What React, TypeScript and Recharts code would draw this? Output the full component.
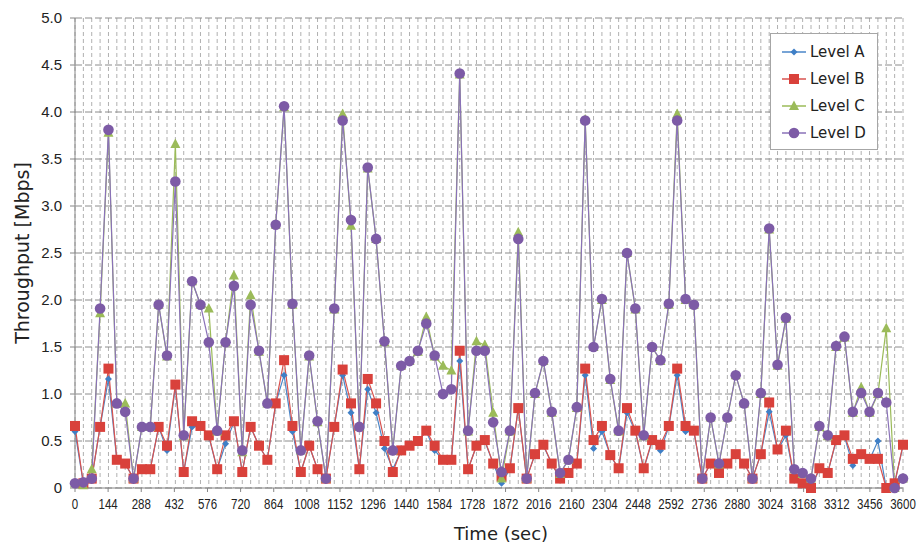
import React from "react";
import { LineChart, Line, XAxis, YAxis, CartesianGrid, Legend } from "recharts";

// throughput samples (Mbps), 100 samples across 0..3600 s
const LEVEL_A = [
  0.6, 0.05, 0.1, 0.65, 1.16, 0.3, 0.26, 0.1, 0.2, 0.2,
  0.65, 0.4, 1.08, 0.17, 0.65, 0.66, 0.55, 0.2, 0.47, 0.7,
  0.17, 0.65, 0.45, 0.3, 0.9, 1.2, 0.6, 0.17, 0.45, 0.2,
  0.1, 0.65, 1.2, 0.8, 0.2, 1.05, 0.8, 0.42, 0.2, 0.4,
  0.45, 0.5, 0.6, 0.4, 0.3, 0.3, 1.35, 0.2, 0.45, 0.5,
  0.26, 0.05, 0.2, 0.85, 0.1, 0.36, 0.45, 0.26, 0.1, 0.16,
  0.26, 1.2, 0.42, 0.6, 0.35, 0.2, 0.8, 0.6, 0.2, 0.5,
  0.4, 0.65, 1.2, 0.6, 0.6, 0.1, 0.26, 0.16, 0.26, 0.36,
  0.26, 0.1, 0.36, 0.81, 0.4, 0.56, 0.1, 0.05, 0.0, 0.2,
  0.16, 0.5, 0.55, 0.24, 0.36, 0.3, 0.5, 0.0, 0.05, 0.45,
];
const LEVEL_B = [
  0.66, 0.05, 0.1, 0.65, 1.27, 0.3, 0.26, 0.1, 0.2, 0.2,
  0.65, 0.45, 1.1, 0.17, 0.71, 0.66, 0.56, 0.2, 0.56, 0.71,
  0.17, 0.65, 0.45, 0.3, 0.9, 1.36, 0.66, 0.17, 0.45, 0.2,
  0.1, 0.65, 1.26, 0.9, 0.2, 1.16, 0.9, 0.5, 0.17, 0.4,
  0.45, 0.5, 0.61, 0.45, 0.3, 0.3, 1.46, 0.2, 0.45, 0.51,
  0.26, 0.12, 0.21, 0.85, 0.1, 0.36, 0.46, 0.26, 0.1, 0.16,
  0.26, 1.27, 0.51, 0.66, 0.35, 0.21, 0.85, 0.61, 0.21, 0.51,
  0.46, 0.66, 1.27, 0.66, 0.61, 0.1, 0.26, 0.16, 0.26, 0.36,
  0.26, 0.1, 0.36, 0.91, 0.41, 0.61, 0.1, 0.05, 0.0, 0.21,
  0.16, 0.51, 0.56, 0.31, 0.36, 0.31, 0.31, 0.0, 0.05, 0.46,
];
const LEVEL_C = [
  0.05, 0.03, 0.2, 1.86, 3.78, 0.9, 0.9, 0.1, 0.65, 0.65,
  1.95, 1.4, 3.66, 0.55, 2.2, 1.95, 1.91, 0.6, 1.55, 2.26,
  0.38, 2.05, 1.45, 0.9, 2.8, 4.05, 1.95, 0.4, 1.4, 0.7,
  0.1, 1.9, 3.98, 2.79, 0.65, 3.4, 2.65, 1.55, 0.4, 1.3,
  1.35, 1.45, 1.82, 1.4, 1.3, 1.25, 4.4, 0.6, 1.56, 1.52,
  0.8, 0.1, 0.6, 2.72, 0.1, 1.0, 1.35, 0.8, 0.15, 0.3,
  0.85, 3.92, 1.5, 2.0, 1.15, 0.6, 2.5, 1.9, 0.55, 1.5,
  1.35, 1.95, 3.98, 2.0, 1.95, 0.1, 0.75, 0.25, 0.75, 1.2,
  0.9, 0.1, 1.0, 2.75, 1.3, 1.8, 0.2, 0.15, 0.1, 0.65,
  0.55, 1.5, 1.6, 0.8, 1.07, 0.8, 1.0, 1.7, 0.0, 0.1,
];
const LEVEL_D = [
  0.05, 0.06, 0.1, 1.91, 3.81, 0.9, 0.81, 0.1, 0.65, 0.65,
  1.95, 1.41, 3.26, 0.56, 2.2, 1.95, 1.55, 0.61, 1.55, 2.15,
  0.4, 1.95, 1.46, 0.9, 2.8, 4.06, 1.96, 0.4, 1.41, 0.71,
  0.1, 1.91, 3.91, 2.85, 0.65, 3.41, 2.65, 1.56, 0.4, 1.3,
  1.35, 1.46, 1.75, 1.41, 1.0, 1.05, 4.41, 0.61, 1.46, 1.46,
  0.7, 0.17, 0.61, 2.65, 0.1, 1.01, 1.35, 0.81, 0.16, 0.3,
  0.86, 3.91, 1.5, 2.01, 1.16, 0.61, 2.5, 1.91, 0.56, 1.5,
  1.36, 1.96, 3.91, 2.01, 1.95, 0.1, 0.75, 0.26, 0.75, 1.2,
  0.9, 0.1, 1.01, 2.76, 1.31, 1.81, 0.2, 0.16, 0.1, 0.66,
  0.56, 1.51, 1.61, 0.81, 1.01, 0.81, 1.01, 0.91, 0.0, 0.1,
];

const X_TICKS = [
  0, 144, 288, 432, 576, 720, 864, 1008, 1152, 1296, 1440, 1584, 1728,
  1872, 2016, 2160, 2304, 2448, 2592, 2736, 2880, 3024, 3168, 3312, 3456, 3600,
];
const Y_TICKS = [0, 0.5, 1, 1.5, 2, 2.5, 3, 3.5, 4, 4.5, 5];

// samples are evenly spaced, first at 0 s and last at 3600 s
const STEP = 3600 / (LEVEL_D.length - 1);
const TIMES = LEVEL_D.map((_, i) => i * STEP);

const data = TIMES.map((t, i) => ({
  t,
  a: LEVEL_A[i],
  b: LEVEL_B[i],
  c: LEVEL_C[i],
  d: LEVEL_D[i],
}));

const COLORS = { a: "#3f7fc6", b: "#d9413b", c: "#9bbb59", d: "#7d5ba6" };
const LINE_COLORS = { a: "#4a86c8", b: "#d9534f", c: "#9bbb59", d: "#8a72b8" };

type Shape = "diamond" | "square" | "triangle" | "circle";

function marker(shape: Shape, color: string, cx: number, cy: number, key?: string) {
  if (shape === "diamond")
    return <path key={key} d={`M${cx},${cy - 3.5}L${cx + 3.5},${cy}L${cx},${cy + 3.5}L${cx - 3.5},${cy}Z`} fill={color} />;
  if (shape === "square")
    return <rect key={key} x={cx - 5} y={cy - 5} width={10} height={10} fill={color} />;
  if (shape === "triangle")
    return <path key={key} d={`M${cx},${cy - 5.5}L${cx + 5},${cy + 4}L${cx - 5},${cy + 4}Z`} fill={color} />;
  return <circle key={key} cx={cx} cy={cy} r={5.3} fill={color} />;
}

const dotFor = (shape: Shape, color: string) => (p: any) => {
  if (p.cx == null || p.cy == null) return <g key={`${shape}-${p.index}`} />;
  return marker(shape, color, p.cx, p.cy, `${shape}-${p.index}`);
};

const SERIES: Array<{ key: "a" | "b" | "c" | "d"; name: string; shape: Shape }> = [
  { key: "a", name: "Level A", shape: "diamond" },
  { key: "b", name: "Level B", shape: "square" },
  { key: "c", name: "Level C", shape: "triangle" },
  { key: "d", name: "Level D", shape: "circle" },
];

// narrow, squeezed tick labels like the original axis
function TimeTick(props: any) {
  const { x, y, payload } = props;
  const label = String(payload.value);
  const width = label.length * 6.4;
  // the last label sits against the right edge: anchor it by its end
  const isLast = payload.value === X_TICKS[X_TICKS.length - 1];
  return (
    <text
      x={isLast ? x + width / 2 : x}
      y={y}
      dy={12}
      textAnchor={isLast ? "end" : "middle"}
      fontSize={15}
      fill="#222"
      fontFamily="'Liberation Sans', sans-serif"
      textLength={width}
      lengthAdjust="spacingAndGlyphs"
    >
      {label}
    </text>
  );
}

function LegendBox() {
  return (
    <div
      style={{
        border: "1px solid #a6a6a6",
        background: "#fff",
        padding: "4px 8px 3px 11px",
        fontFamily: "'DejaVu Sans', sans-serif",
        fontSize: 15,
        color: "#222",
      }}
    >
      {SERIES.map((s) => (
        <div key={s.key} style={{ display: "flex", alignItems: "center", height: 27 }}>
          <svg width={24} height={14} style={{ marginRight: 4 }}>
            <line x1={0} y1={7} x2={24} y2={7} stroke={LINE_COLORS[s.key]} strokeWidth={1.5} />
            {marker(s.shape, COLORS[s.key], 12, 7)}
          </svg>
          <span>{s.name}</span>
        </div>
      ))}
    </div>
  );
}

export default function App() {
  return (
    <div style={{ position: "absolute", left: 0, top: 0, background: "#fff" }}>
      <LineChart width={920} height={547} data={data} margin={{ top: 18, right: 17, left: 0, bottom: 0 }}>
        <CartesianGrid
          xAxisId="grid"
          horizontal={false}
          stroke="#b0b0b0"
          strokeDasharray="4 3"
        />
        <CartesianGrid vertical={false} stroke="#8c8c8c" strokeDasharray="7 3" />
        <XAxis
          xAxisId="grid"
          dataKey="t"
          type="number"
          domain={[0, 3600]}
          ticks={TIMES}
          interval={0}
          hide
        />
        <XAxis
          dataKey="t"
          type="number"
          domain={[0, 3600]}
          ticks={X_TICKS}
          interval={0}
          height={59}
          axisLine={{ stroke: "#868686" }}
          tickLine={{ stroke: "#868686" }}
          tickSize={4}
          tickMargin={5}
          tick={<TimeTick />}
          label={{
            value: "Time (sec)",
            position: "insideBottom",
            offset: 7,
            dx: 12,
            style: { fontSize: 18, fill: "#222", fontFamily: "'DejaVu Sans', sans-serif" },
          }}
        />
        <YAxis
          type="number"
          domain={[0, 5]}
          ticks={Y_TICKS}
          width={75}
          axisLine={{ stroke: "#868686" }}
          tickLine={{ stroke: "#868686" }}
          tickSize={5}
          tickMargin={8}
          tickFormatter={(v: number) => (v === 0 ? "0" : v.toFixed(1))}
          tick={{ fontSize: 15, fill: "#222", fontFamily: "'Liberation Sans', sans-serif" }}
          label={{
            value: "Throughput [Mbps]",
            angle: -90,
            position: "insideLeft",
            offset: 22,
            style: { textAnchor: "middle", fontSize: 19, fill: "#222", fontFamily: "'DejaVu Sans', sans-serif" },
          }}
        />
        <Legend
          content={() => <LegendBox />}
          layout="vertical"
          verticalAlign="middle"
          align="center"
          wrapperStyle={{ top: 33, left: 770, right: "auto", bottom: "auto", width: 108 }}
        />
        {SERIES.map((s) => (
          <Line
            key={s.key}
            type="linear"
            dataKey={s.key}
            name={s.name}
            stroke={LINE_COLORS[s.key]}
            strokeWidth={1.2}
            dot={dotFor(s.shape, COLORS[s.key])}
            activeDot={false}
            isAnimationActive={false}
          />
        ))}
      </LineChart>
    </div>
  );
}
